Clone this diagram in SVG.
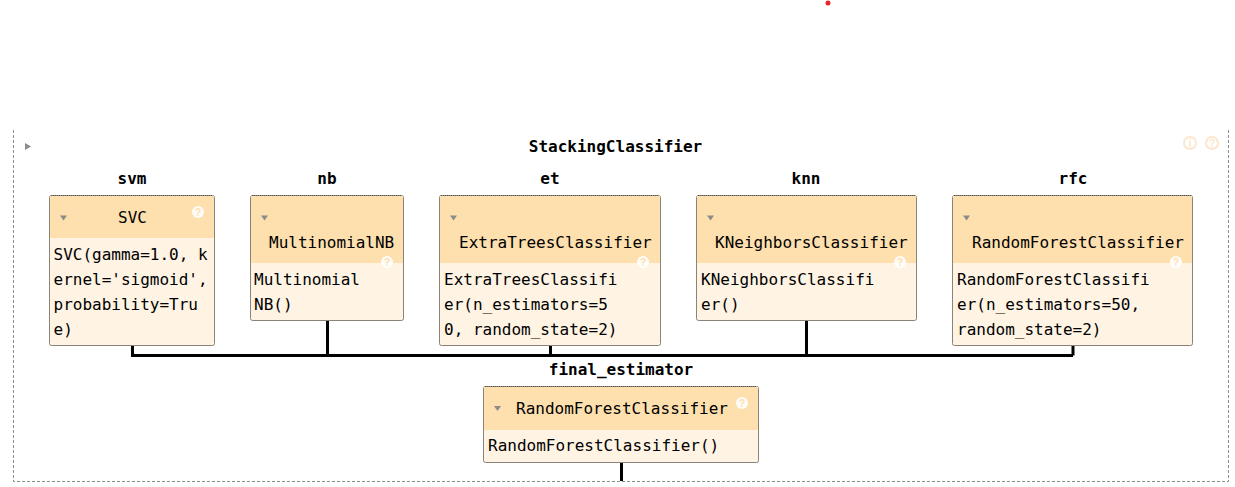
<svg xmlns="http://www.w3.org/2000/svg" width="1235" height="487" viewBox="0 0 1235 487">
<style>
text{font-family:"DejaVu Sans Mono","Liberation Mono",monospace;font-size:16px;fill:#000}
.t{font-weight:bold;text-anchor:middle}
.b{fill:#fff3e3;stroke:#8a8378;stroke-width:1}
.h{fill:#fedfae}
.d{fill:none;stroke:#555;stroke-width:1;stroke-dasharray:1 1}
.a{fill:#8c8c8c}
.q{fill:#fff;opacity:.9}
.qt{font-family:"Liberation Sans",sans-serif;font-size:10px;font-weight:bold;fill:#fddfae;text-anchor:middle}
.c{fill:none;stroke:#000;stroke-width:3}
.o{fill:none;stroke:#8c8c8c;stroke-width:1;stroke-dasharray:3 2}
.i{fill:none;stroke:#fde6cf;stroke-width:2}
.it{font-family:"Liberation Sans",sans-serif;font-size:11px;font-weight:bold;fill:#fde6cf;text-anchor:middle}
</style>
<circle cx="828" cy="3" r="2.500" fill="#e8262a"/>
<g id="connectors">
<path class="c" d="M132.500 345V355.500H1073M1073 345V355.500M327.500 320V355.500M550.500 345V355.500M806.500 320V355.500M621.500 462V481"/>
</g>
<g id="outer">
<path class="o" d="M13.500 130V481.500H1228.500V130"/>
<path class="a" d="M25 143L31 146.500L25 150Z"/>
<text class="t" x="615.500" y="152">StackingClassifier</text>
<circle class="i" cx="1190" cy="143" r="6"/><text class="it" x="1190" y="147">i</text>
<circle class="i" cx="1212" cy="143" r="6"/><text class="it" x="1212" y="147">?</text>
</g>
<g id="svm">
<text class="t" x="132" y="184">svm</text>
<rect class="b" x="49.500" y="195.500" width="165" height="150" rx="2"/>
<path class="h" d="M50 196H214V238H50Z"/>
<path class="d" d="M51 195.500H213"/>
<path class="a" d="M60 215.500H67L63.500 220.500Z"/>
<text x="118" y="223">SVC</text>
<circle class="q" cx="198" cy="212" r="6"/><text class="qt" x="198" y="216">?</text>
<text x="53.500" y="260">SVC(gamma=1.0, k</text>
<text x="53.500" y="285">ernel='sigmoid',</text>
<text x="53.500" y="310">probability=Tru</text>
<text x="53.500" y="335">e)</text>
</g>
<g id="nb">
<text class="t" x="327" y="184">nb</text>
<rect class="b" x="250.500" y="195.500" width="153" height="125" rx="2"/>
<path class="h" d="M251 196H403V263H251Z"/>
<path class="d" d="M252 195.500H402"/>
<path class="a" d="M261 215.500H268L264.500 220.500Z"/>
<text x="269" y="248">MultinomialNB</text>
<circle class="q" cx="387" cy="262" r="6"/><text class="qt" x="387" y="266">?</text>
<text x="254" y="285">Multinomial</text>
<text x="254" y="310">NB()</text>
</g>
<g id="et">
<text class="t" x="550" y="184">et</text>
<rect class="b" x="439.500" y="195.500" width="221" height="150" rx="2"/>
<path class="h" d="M440 196H660V263H440Z"/>
<path class="d" d="M441 195.500H659"/>
<path class="a" d="M450 215.500H457L453.500 220.500Z"/>
<text x="459" y="248">ExtraTreesClassifier</text>
<circle class="q" cx="643" cy="262" r="6"/><text class="qt" x="643" y="266">?</text>
<text x="444" y="285">ExtraTreesClassifi</text>
<text x="444" y="310">er(n_estimators=5</text>
<text x="444" y="335">0, random_state=2)</text>
</g>
<g id="knn">
<text class="t" x="806" y="184">knn</text>
<rect class="b" x="696.500" y="195.500" width="220" height="125" rx="2"/>
<path class="h" d="M697 196H916V263H697Z"/>
<path class="d" d="M698 195.500H915"/>
<path class="a" d="M707 215.500H714L710.500 220.500Z"/>
<text x="715" y="248">KNeighborsClassifier</text>
<circle class="q" cx="900" cy="262" r="6"/><text class="qt" x="900" y="266">?</text>
<text x="701" y="285">KNeighborsClassifi</text>
<text x="701" y="310">er()</text>
</g>
<g id="rfc">
<text class="t" x="1073" y="184">rfc</text>
<rect class="b" x="952.500" y="195.500" width="240" height="150" rx="2"/>
<path class="h" d="M953 196H1192V263H953Z"/>
<path class="d" d="M954 195.500H1191"/>
<path class="a" d="M963 215.500H970L966.500 220.500Z"/>
<text x="972" y="248">RandomForestClassifier</text>
<circle class="q" cx="1176" cy="262" r="6"/><text class="qt" x="1176" y="266">?</text>
<text x="957" y="285">RandomForestClassifi</text>
<text x="957" y="310">er(n_estimators=50,</text>
<text x="957" y="335">random_state=2)</text>
</g>
<g id="final_estimator">
<text class="t" x="621" y="375">final_estimator</text>
<rect class="b" x="483.500" y="386.500" width="275" height="76" rx="2"/>
<path class="h" d="M484 387H758V430H484Z"/>
<path class="d" d="M485 386.500H757"/>
<path class="a" d="M494 406H501L497.500 411Z"/>
<text x="516" y="414">RandomForestClassifier</text>
<circle class="q" cx="742" cy="403" r="6"/><text class="qt" x="742" y="407">?</text>
<text x="488" y="451">RandomForestClassifier()</text>
</g>
</svg>
